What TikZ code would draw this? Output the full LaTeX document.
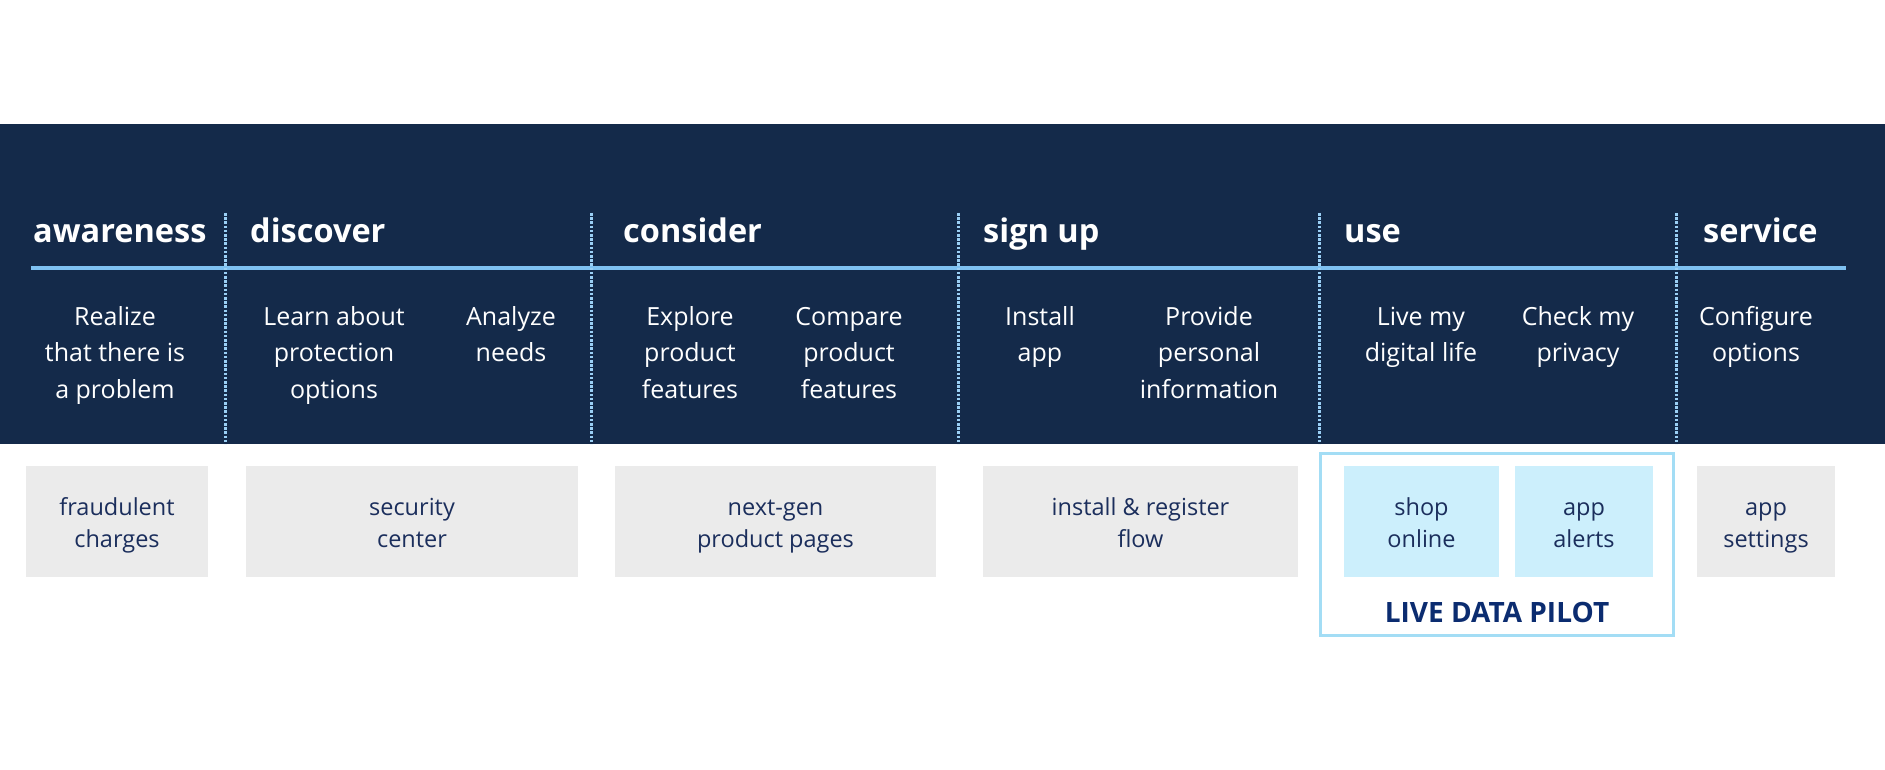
\documentclass[tikz,border=0pt]{standalone}
\usepackage{fontspec}
\setmainfont{Open Sans}
\definecolor{bandc}{HTML}{142A4A}
\definecolor{rulec}{HTML}{7EC1F2}
\definecolor{dotc}{HTML}{9ACFF5}
\definecolor{grayc}{HTML}{EBEBEB}
\definecolor{pilotc}{HTML}{CCEFFC}
\definecolor{framec}{HTML}{A3DDF5}
\definecolor{boxtxt}{HTML}{1B2E5C}
\definecolor{pilottxt}{HTML}{0B2C70}
\tikzset{
  phase/.style={anchor=base west, inner sep=0pt, text=white, font=\bfseries\fontsize{32.5}{40}\selectfont},
  subtxt/.style={anchor=north, inner sep=0pt, align=center, text=white, font=\fontsize{25}{36.5}\selectfont},
  touch/.style={fill=grayc, inner sep=0pt, align=center, text=boxtxt, minimum height=111pt, font=\fontsize{23.5}{32}\selectfont},
  touchtxt/.style={inner sep=0pt, align=center, text=boxtxt, font=\fontsize{23.5}{32}\selectfont},
  pilotbox/.style={touch, fill=pilotc},
  divider/.style={draw=dotc, line width=3pt, dash pattern=on 2.6pt off 1.6pt},
}
\begin{document}
\begin{tikzpicture}[x=1pt,y=-1pt]
\useasboundingbox (0,0) rectangle (1885,770);
\fill[bandc] (0,124) rectangle (1885,444);
\draw[rulec, line width=4.5pt] (31,268) -- (1846,268);
\foreach \xx in {225,591,958,1319,1676}{
  \draw[divider] (\xx,213) -- (\xx,444);
}
% phase headings
\node[phase] (h1) at (33,243) {awareness};
\node[phase] (h2) at (250,243) {discover};
\node[phase] (h3) at (623,243) {consider};
\node[phase] (h4) at (983,243) {sign up};
\node[phase] (h5) at (1344,243) {use};
\node[phase] (h6) at (1703,243) {service};
% steps
\node[subtxt] (s1) at (115,299.5) {\strut Realize\\that there is\\a problem};
\node[subtxt] (s2) at (334,299.5) {\strut Learn about\\protection\\options};
\node[subtxt] (s3) at (511,299.5) {\strut Analyze\\needs};
\node[subtxt] (s4) at (690,299.5) {\strut Explore\\product\\features};
\node[subtxt] (s5) at (849,299.5) {\strut Compare\\product\\features};
\node[subtxt] (s6) at (1040,299.5) {\strut Install\\app};
\node[subtxt] (s7) at (1209,299.5) {\strut Provide\\personal\\information};
\node[subtxt] (s8) at (1421,299.5) {\strut Live my\\digital life};
\node[subtxt] (s9) at (1578,299.5) {\strut Check my\\privacy};
\node[subtxt] (s10) at (1756,299.5) {\strut Configure\\options};
% touchpoints
\node[touch, minimum width=182pt] (t1) at (117,521.5) {};
\node[touch, minimum width=332pt] (t2) at (412,521.5) {};
\node[touch, minimum width=321pt] (t3) at (775.5,521.5) {};
\node[touch, minimum width=315pt] (t4) at (1140.5,521.5) {};
\node[pilotbox, minimum width=155pt] (t5) at (1421.5,521.5) {};
\node[pilotbox, minimum width=138pt] (t6) at (1584,521.5) {};
\node[touch, minimum width=138pt] (t7) at (1766,521.5) {};
\node[touchtxt] (l1) at ([yshift=-3.5pt]t1.center) {\strut fraudulent\\charges\strut};
\node[touchtxt] (l2) at ([yshift=-3.5pt]t2.center) {\strut security\\center\strut};
\node[touchtxt] (l3) at ([yshift=-3.5pt]t3.center) {\strut next-gen\\product pages\strut};
\node[touchtxt] (l4) at ([yshift=-3.5pt]t4.center) {\strut install \& register\\flow\strut};
\node[touchtxt] (l5) at ([yshift=-3.5pt]t5.center) {\strut shop\\online\strut};
\node[touchtxt] (l6) at ([yshift=-3.5pt]t6.center) {\strut app\\alerts\strut};
\node[touchtxt] (l7) at ([yshift=-3.5pt]t7.center) {\strut app\\settings\strut};
% pilot frame
\draw[framec, line width=3pt] (1320.5,453.5) rectangle (1673.5,635.5);
\node[anchor=base, inner sep=0pt, text=pilottxt, font=\bfseries\fontsize{28}{32}\selectfont] (pl) at (1497,622) {LIVE DATA PILOT};
\end{tikzpicture}
\end{document}
